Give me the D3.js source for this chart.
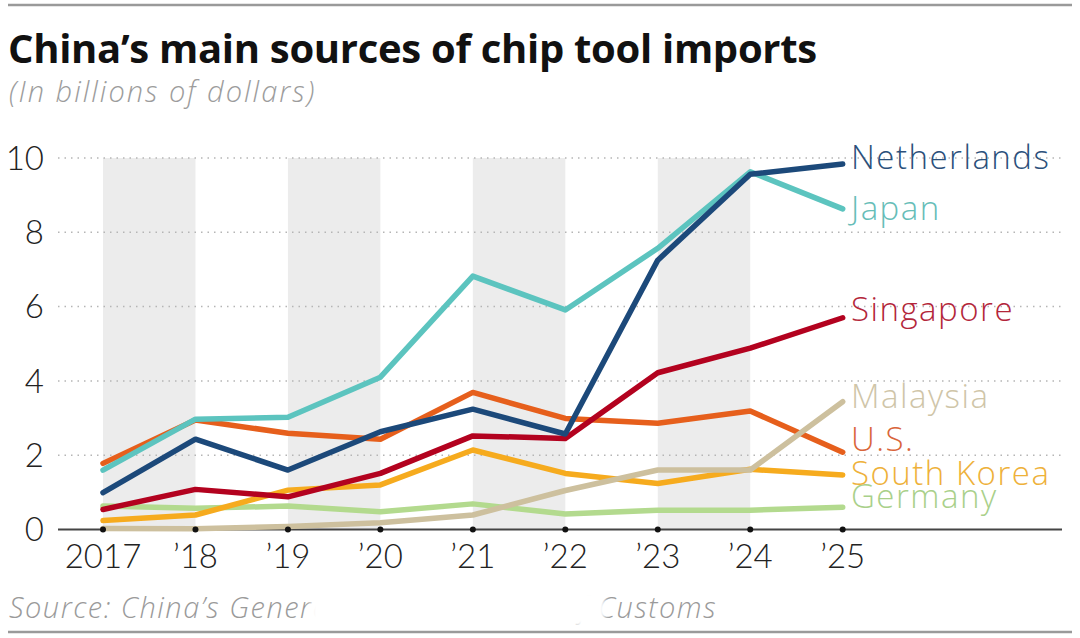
<!DOCTYPE html>
<html>
<head>
<meta charset="utf-8">
<script src="https://cdn.jsdelivr.net/npm/d3@7"></script>
<style>
  body { margin: 0; background: #fff; }
  svg { display: block; font-family: Lato, "Noto Sans", sans-serif; }
  .wide { font-family: "Open Sans", "Noto Sans", sans-serif; }
</style>
</head>
<body>
<svg id="chart" width="1080" height="638"></svg>
<script>
// values, billions of dollars
const years = [2017, 2018, 2019, 2020, 2021, 2022, 2023, 2024, 2025];
const yearLabels = ["2017", "\u201918", "\u201919", "\u201920", "\u201921", "\u201922", "\u201923", "\u201924", "\u201925"];
const yTicks = [0, 2, 4, 6, 8, 10];

const germany     = [0.63, 0.57, 0.63, 0.48, 0.69, 0.42, 0.52, 0.52, 0.60];
const southKorea  = [0.24, 0.39, 1.06, 1.20, 2.14, 1.51, 1.24, 1.62, 1.47];
const us          = [1.78, 2.95, 2.59, 2.43, 3.69, 2.99, 2.86, 3.19, 2.08];
const malaysia    = [0.03, 0.02, 0.08, 0.18, 0.39, 1.05, 1.60, 1.60, 3.44];
const singapore   = [0.54, 1.08, 0.88, 1.51, 2.52, 2.45, 4.22, 4.88, 5.70];
const japan       = [1.60, 2.97, 3.02, 4.10, 6.82, 5.91, 7.57, 9.63, 8.63];
const netherlands = [0.99, 2.43, 1.60, 2.63, 3.24, 2.57, 7.25, 9.56, 9.84];

// draw order: first is lowest
const seriesNames  = ["Germany", "South Korea", "U.S.", "Malaysia", "Singapore", "Japan", "Netherlands"];
const seriesValues = [germany, southKorea, us, malaysia, singapore, japan, netherlands];
const seriesColors = ["#b3da8e", "#f6ab1e", "#e65f1c", "#cdc09e", "#b3021f", "#5cc4bf", "#1c497a"];
const labelColors  = ["#a9d08a", "#eeb13a", "#d9653a", "#cfc5a8", "#b3263a", "#66bdb8", "#2b507b"];
const labelY       = [508, 485, 451, 408, 321, 220, 169];   // label baselines

const svg = d3.select("#chart");
let margin = {left: 58, right: 18, top: 158, bottom: 108};
let width = 1080 - margin.right;

let x = d3.scaleLinear().domain([2017, 2025]).range([103, 842.7]);
let y = d3.scaleLinear().domain([0, 10]).range([529.5, 158]);

// top and bottom rules
svg.append("line").attr("x1", 8).attr("x2", 1072).attr("y1", 5).attr("y2", 5)
  .attr("stroke", "#9a9a9a").attr("stroke-width", 2.5);
svg.append("line").attr("x1", 8).attr("x2", 1072).attr("y1", 632).attr("y2", 632)
  .attr("stroke", "#9a9a9a").attr("stroke-width", 2.5);

// title
svg.append("text").attr("class", "wide").attr("x", 8).attr("y", 63)
  .style("font-size", "40px").style("font-weight", 700).style("fill", "#111")
  .style("letter-spacing", "-0.3px")
  .text("China\u2019s main sources of chip tool imports");
svg.append("text").attr("class", "wide").attr("x", 9).attr("y", 102)
  .style("font-size", "29px").style("font-style", "italic").style("font-weight", 300).style("fill", "#9c9c9c")
  .style("letter-spacing", "2px")
  .text("(In billions of dollars)");

// alternating year bands
let bandStarts = [2017, 2019, 2021, 2023];
svg.append("g").selectAll("rect").data(bandStarts).enter().append("rect")
  .attr("x", d => x(d)).attr("width", d => x(d + 1) - x(d))
  .attr("y", y(10)).attr("height", y(0) - y(10))
  .attr("fill", "#ececec");

// dotted gridlines
svg.append("g").selectAll("line").data(yTicks.filter(d => d > 0)).enter().append("line")
  .attr("x1", margin.left).attr("x2", width)
  .attr("y1", d => y(d)).attr("y2", d => y(d))
  .attr("stroke", "#b5b5b5").attr("stroke-width", 1.5).attr("stroke-dasharray", "1.5,5");

// y labels
svg.append("g").selectAll("text").data(yTicks).enter().append("text")
  .attr("x", 44).attr("y", d => y(d)).attr("dy", "0.36em")
  .attr("text-anchor", "end")
  .style("font-size", "33px").style("font-weight", 300).style("fill", "#222")
  .text(d => d);

// base axis
svg.append("line").attr("x1", margin.left).attr("x2", width)
  .attr("y1", y(0)).attr("y2", y(0))
  .attr("stroke", "#444").attr("stroke-width", 2);

// series lines
let line = d3.line().x((d, i) => x(years[i])).y(d => y(d));
svg.append("g").selectAll("path").data(seriesValues).enter().append("path")
  .attr("d", d => line(d))
  .attr("fill", "none")
  .attr("stroke", (d, i) => seriesColors[i])
  .attr("stroke-width", 5.5)
  .attr("stroke-linejoin", "round")
  .attr("stroke-linecap", "round");

// tick dots
svg.append("g").selectAll("circle").data(years).enter().append("circle")
  .attr("cx", d => x(d)).attr("cy", y(0)).attr("r", 3).attr("fill", "#111");

// x labels
svg.append("g").selectAll("text").data(years).enter().append("text")
  .attr("x", d => x(d)).attr("y", 568)
  .attr("text-anchor", "middle")
  .style("font-size", "33px").style("font-weight", 300).style("fill", "#222")
  .text((d, i) => yearLabels[i]);

// end labels
svg.append("g").selectAll("text").data(seriesNames).enter().append("text")
  .attr("class", "wide")
  .attr("x", 851).attr("y", (d, i) => labelY[i])
  .style("font-size", "33px").style("font-weight", 300)
  .style("letter-spacing", "1.5px")
  .style("fill", (d, i) => labelColors[i])
  .text(d => d);

// source line, partly covered by a soft white smudge like the picture
let defs = svg.append("defs");
defs.append("filter").attr("id", "soft").attr("x", "-10%").attr("width", "120%")
  .append("feGaussianBlur").attr("stdDeviation", 2.5);
let sourceText = "Source: China\u2019s General Administration of Customs";
let src = svg.append("text").attr("class", "wide").attr("x", 9).attr("y", 618)
  .style("font-size", "29px").style("font-style", "italic").style("font-weight", 300).style("fill", "#9a9a9a")
  .style("letter-spacing", "1.5px")
  .text(sourceText);
let node = src.node();
let gapStart = 9 + node.getSubStringLength(0, sourceText.indexOf("eral") + 2) - 2;
let gapEnd = 9 + node.getSubStringLength(0, sourceText.indexOf("Customs")) + 7;
svg.append("rect").attr("x", gapStart).attr("y", 590).attr("width", gapEnd - gapStart).attr("height", 36)
  .attr("fill", "#fff").attr("filter", "url(#soft)");
</script>
</body>
</html>
